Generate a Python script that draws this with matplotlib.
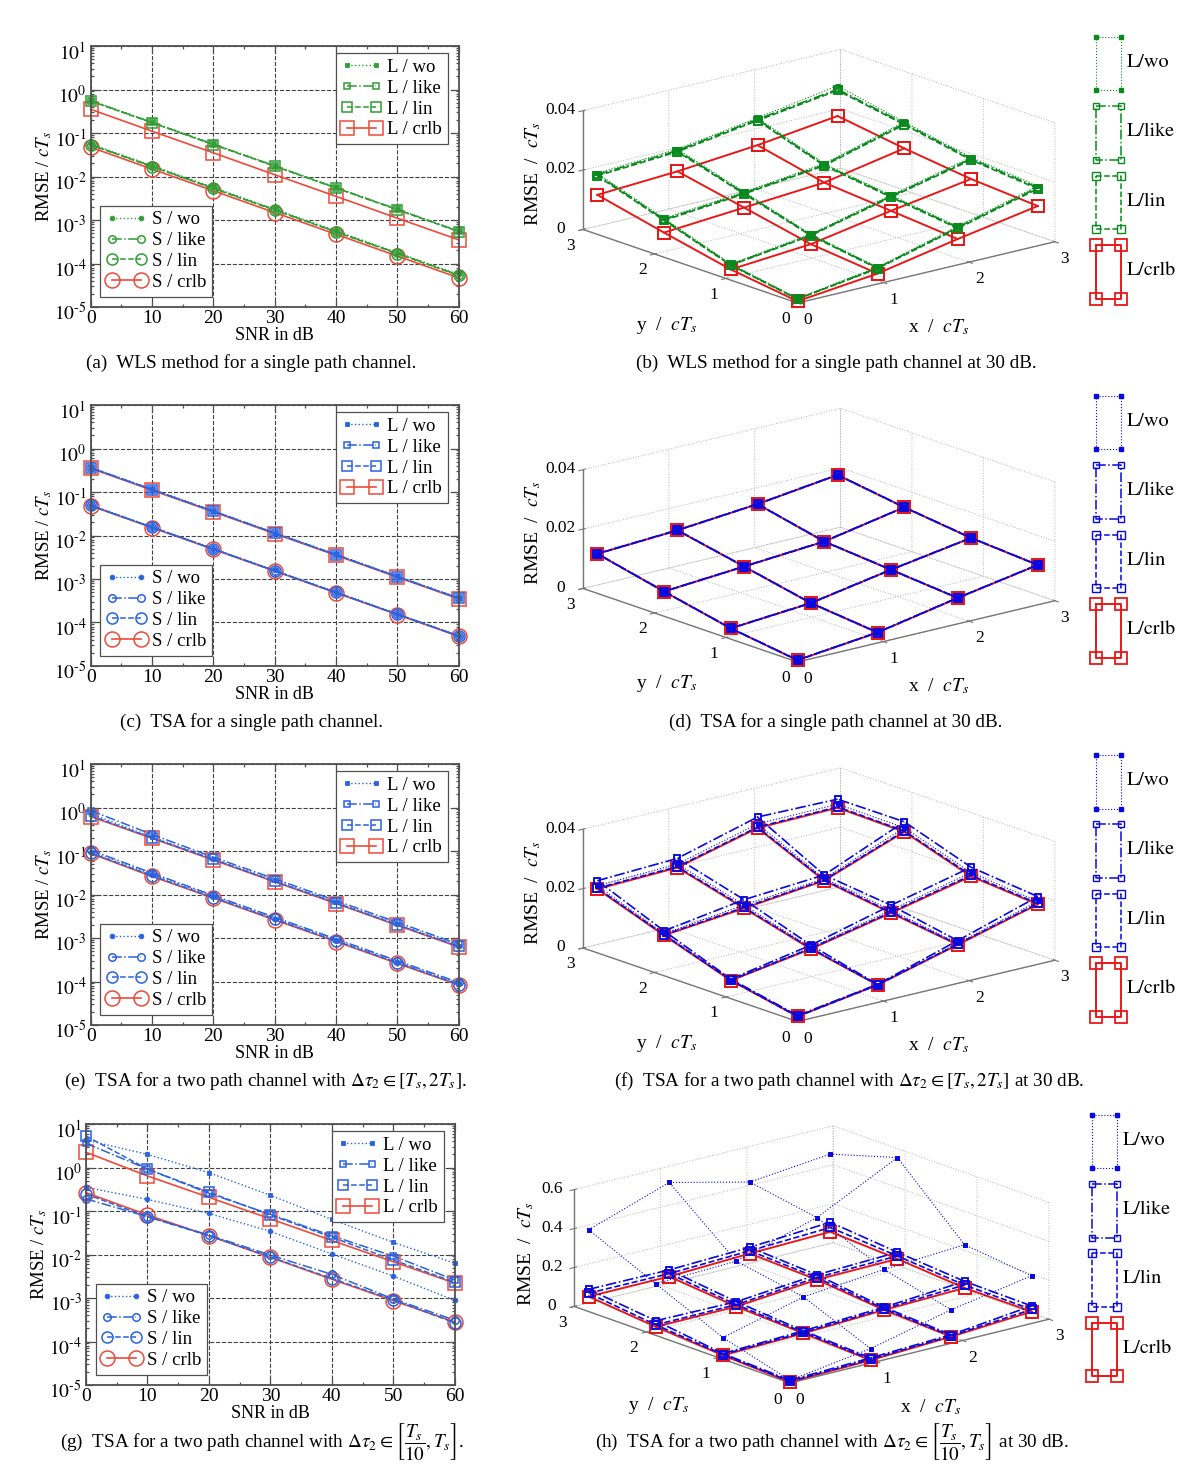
import matplotlib
matplotlib.use("Agg")
import matplotlib.pyplot as plt
from matplotlib.ticker import LogLocator, NullFormatter
from matplotlib.transforms import ScaledTranslation
from mpl_toolkits.mplot3d import proj3d

W, H = 1200, 1476
plt.rcParams.update({
    "font.family": ["Liberation Serif", "DejaVu Serif"],
    "mathtext.fontset": "stix",
    "grid.color": "#b8b8b8",
    "grid.linestyle": ":",
    "grid.linewidth": 0.7,
})

GREEN_L, BLUE_L, RED_L = "#2f9e35", "#2a62e0", "#ee4a3a"
GREEN_R, BLUE_R, RED_R = "#0a8a1e", "#0808e0", "#e81818"
DARK = "#505050"

snr = [0, 10, 20, 30, 40, 50, 60]

# panel a
a_l_wo = [.56, .178, .056, .0178, .0056, .00178, .00056]
a_l_like = [.55, .175, .055, .0175, .0055, .00175, .00055]
a_l_lin = [.54, .172, .054, .0172, .0054, .00172, .00054]
a_l_crlb = [.35, .11, .035, .011, .0035, .0011, .00035]
a_s_wo = [.056, .0178, .0056, .00178, .00056, .000178, .000056]
a_s_like = [.054, .0172, .0054, .00172, .00054, .000172, .000054]
a_s_lin = [.053, .0168, .0053, .00168, .00053, .000168, .000053]
a_s_crlb = [.047, .0148, .0047, .00148, .00047, .000148, .000047]
# panel c
c_l_wo = [.37, .116, .037, .0116, .0037, .00116, .00037]
c_l_like = [.36, .114, .036, .0114, .0036, .00114, .00036]
c_l_lin = [.36, .113, .036, .0113, .0036, .00113, .00036]
c_l_crlb = [.35, .11, .035, .011, .0035, .0011, .00035]
c_s_wo = [.05, .0158, .005, .00158, .0005, .000158, .00005]
c_s_like = [.049, .0155, .0049, .00155, .00049, .000155, .000049]
c_s_lin = [.049, .0154, .0049, .00154, .00049, .000154, .000049]
c_s_crlb = [.048, .0152, .0048, .00152, .00048, .000152, .000048]
# panel e
e_l_wo = [.72, .21, .066, .021, .0066, .0021, .00066]
e_l_like = [.85, .24, .072, .023, .0072, .0023, .00072]
e_l_lin = [.65, .2, .064, .02, .0064, .002, .00064]
e_l_crlb = [.62, .196, .062, .0196, .0062, .00196, .00062]
e_s_wo = [.095, .029, .009, .0028, .0009, .00028, .00009]
e_s_like = [.105, .031, .0095, .003, .00095, .0003, .000095]
e_s_lin = [.09, .027, .0085, .0027, .00085, .00027, .000085]
e_s_crlb = [.088, .026, .0083, .0026, .00083, .00026, .000083]
# panel g
g_l_wo = [4.3, 2.0, .76, .23, .064, .019, .0063]
g_l_like = [3.6, .92, .255, .084, .027, .0092, .0026]
g_l_lin = [5.3, .92, .27, .081, .025, .0075, .0023]
g_l_crlb = [2.24, .64, .206, .066, .021, .0068, .0022]
g_s_wo = [.35, .185, .088, .034, .0103, .0032, .00088]
g_s_like = [.19, .074, .028, .0097, .0035, .00095, .00031]
g_s_lin = [.245, .074, .027, .0088, .0028, .00091, .00027]
g_s_crlb = [.265, .081, .027, .0086, .0027, .00087, .00028]

# 3d panels, rows are y positions and columns x positions
grid_pos = [0, 0.933, 1.867, 2.8]

b_wo = [[.0016, .0057, .0130, .0202], [.0055, .0091, .0158, .0221],
        [.0131, .0156, .0187, .0263], [.0206, .0223, .0264, .0308]]
b_like = [[.0014, .0054, .0126, .0196], [.0052, .0088, .0154, .0216],
          [.0127, .0152, .0183, .0258], [.0201, .0218, .0259, .0296]]
b_lin = [[.0013, .0052, .0123, .0192], [.0050, .0086, .0151, .0212],
         [.0124, .0149, .0180, .0254], [.0197, .0214, .0255, .0292]]
b_crlb = [[.0006, .0035, .0087, .0134], [.0036, .0057, .0105, .0148],
          [.0083, .0103, .0123, .0174], [.0133, .0148, .0172, .0206]]

d_wo = [[.0007, .0036, .0088, .0135], [.0037, .0058, .0106, .0149],
        [.0084, .0104, .0124, .0175], [.0134, .0149, .0173, .0207]]
d_like = [[.0007, .0036, .0088, .0135], [.0037, .0058, .0106, .0149],
          [.0084, .0104, .0124, .0175], [.0134, .0149, .0173, .0207]]
d_lin = [[.0006, .0035, .0087, .0134], [.0036, .0057, .0105, .0148],
         [.0083, .0103, .0123, .0174], [.0133, .0148, .0172, .0206]]
d_crlb = [[.0006, .0035, .0087, .0134], [.0036, .0057, .0105, .0148],
          [.0083, .0103, .0123, .0174], [.0133, .0148, .0172, .0206]]

f_wo = [[.0018, .0060, .0135, .0212], [.0063, .0108, .0170, .0232],
        [.0142, .0174, .0199, .0306], [.0226, .0235, .0306, .0308]]
f_like = [[.0020, .0061, .0144, .0228], [.0066, .0116, .0186, .0250],
          [.0151, .0192, .0211, .0326], [.0243, .0254, .0329, .0325]]
f_lin = [[.0017, .0059, .0132, .0205], [.0062, .0105, .0163, .0223],
         [.0138, .0166, .0194, .0295], [.0218, .0226, .0295, .0299]]
f_crlb = [[.0017, .0059, .0130, .0202], [.0061, .0103, .0160, .0219],
          [.0136, .0163, .0192, .0292], [.0215, .0223, .0292, .0296]]

h_wo = [[.014, .075, .172, .245], [.111, .218, .257, .282],
        [.265, .279, .401, .607], [.420, .561, .461, .503]]
h_like = [[.014, .027, .044, .090], [.029, .044, .063, .094],
          [.075, .071, .107, .121], [.114, .112, .126, .153]]
h_lin = [[.008, .020, .038, .072], [.024, .036, .055, .075],
         [.054, .056, .093, .102], [.094, .093, .108, .126]]
h_crlb = [[.005, .015, .034, .061], [.020, .031, .049, .060],
          [.044, .046, .082, .087], [.077, .078, .094, .104]]

decades = [1e-5, 1e-4, 1e-3, 1e-2, 1e-1, 1e0, 1e1]
decade_labels = [r"$10^{\text{-}5}$", r"$10^{\text{-}4}$", r"$10^{\text{-}3}$", r"$10^{\text{-}2}$",
                 r"$10^{\text{-}1}$", r"$10^{0}$", r"$10^{1}$"]
xy_ticks = [0, 1, 2, 3]


def snr_panel(fig, box, colour, l_series, s_series):
    left, top, right, bottom = box
    ax = fig.add_axes([left / W, 1 - bottom / H, (right - left) / W, (bottom - top) / H])
    wo, like, lin, crlb = l_series
    s_wo, s_like, s_lin, s_crlb = s_series
    kw = dict(mfc="none", clip_on=False)
    l_lines = [
        ax.plot(snr, crlb, "-", color=RED_L, lw=1.2, marker="s", ms=9.6, mew=1.1, label="L / crlb", **kw)[0],
        ax.plot(snr, lin, "--", color=colour, lw=1.1, marker="s", ms=7.2, mew=1.1, label="L / lin", **kw)[0],
        ax.plot(snr, like, "-.", color=colour, lw=1.1, marker="s", ms=5, mew=1.1, label="L / like", **kw)[0],
        ax.plot(snr, wo, ":", color=colour, lw=1, marker="s", ms=3.4, mfc=colour, mew=0.6, clip_on=False, label="L / wo")[0],
    ]
    s_lines = [
        ax.plot(snr, s_crlb, "-", color=RED_L, lw=1.2, marker="o", ms=10.8, mew=1.1, label="S / crlb", **kw)[0],
        ax.plot(snr, s_lin, "--", color=colour, lw=1.1, marker="o", ms=8, mew=1.1, label="S / lin", **kw)[0],
        ax.plot(snr, s_like, "-.", color=colour, lw=1.1, marker="o", ms=5.4, mew=1.1, label="S / like", **kw)[0],
        ax.plot(snr, s_wo, ":", color=colour, lw=1, marker="o", ms=3.4, mfc=colour, mew=0.6, clip_on=False, label="S / wo")[0],
    ]
    ax.set_yscale("log")
    ax.set_xlim(0, 60)
    ax.set_ylim(1e-5, 1e1)
    ax.set_xticks(snr)
    ax.set_xticks(range(5, 60, 10), minor=True)
    ax.set_yticks(decades)
    ax.set_yticklabels(decade_labels)
    ax.yaxis.set_minor_locator(LogLocator(base=10, subs=range(2, 10), numticks=20))
    ax.yaxis.set_minor_formatter(NullFormatter())
    ax.tick_params(which="both", direction="in", top=True, right=True, color=DARK, labelsize=14, width=0.9)
    ax.tick_params(which="major", length=5, pad=3)
    ax.tick_params(which="minor", length=2.5)
    ax.tick_params(axis="x", which="major", pad=2)
    ax.grid(True, which="major", color="#404040", ls="--", lw=0.8)
    ax.set_axisbelow(True)
    for spine in ax.spines.values():
        spine.set_color(DARK)
        spine.set_linewidth(1.3)
    # gnuplot puts the exponent labels a bit below the tick
    shift = ScaledTranslation(0, -3 / 72, fig.dpi_scale_trans)
    for lab in ax.get_yticklabels():
        lab.set_transform(lab.get_transform() + shift)
    ax.set_xlabel("SNR in dB", fontsize=13, labelpad=0)
    ax.set_ylabel("RMSE / $cT_s$", fontsize=13.5, labelpad=0)

    leg_kw = dict(fontsize=13.5, numpoints=2, handlelength=2.15, handletextpad=0.3, labelspacing=0.2,
                  borderpad=0.3, borderaxespad=0, fancybox=False, framealpha=1, edgecolor=DARK)
    leg = ax.legend(handles=l_lines[::-1], loc="upper right", bbox_to_anchor=(0.97, 0.973), **leg_kw)
    leg.get_frame().set_linewidth(0.9)
    ax.add_artist(leg)
    leg2 = ax.legend(handles=s_lines[::-1], loc="lower left", bbox_to_anchor=(0.026, 0.04), **leg_kw)
    leg2.get_frame().set_linewidth(0.9)
    return ax


def mesh(ax, z, style, colour, lw, ms, filled=False, mew=1.0):
    mfc = colour if filled else "none"
    for j, row in enumerate(z):
        ax.plot(grid_pos, [grid_pos[j]] * 4, row, style, color=colour, lw=lw, marker="s", ms=ms,
                mfc=mfc, mec=colour, mew=mew, clip_on=False)
    for i in range(4):
        col = [row[i] for row in z]
        ax.plot([grid_pos[i]] * 4, grid_pos, col, style, color=colour, lw=lw, marker="s", ms=ms,
                mfc=mfc, mec=colour, mew=mew, clip_on=False)


def surface_panel(fig, corner, colour, series, z_ticks, z_labels, ratio=0.37, elev=16.6, x_px=85.8):
    size = 340
    ax = fig.add_axes([0.5, 0.5, size / W, size / H], projection="3d", proj_type="ortho", computed_zorder=False)
    ax.patch.set_alpha(0)
    ax.view_init(elev=elev, azim=-129.8)
    ax.set_xlim(0, 3, view_margin=0)
    ax.set_ylim(0, 3, view_margin=0)
    ax.set_zlim(0, z_ticks[-1], view_margin=0)
    ax.set_xticks(xy_ticks)
    ax.set_yticks(xy_ticks)
    ax.set_zticks(z_ticks)
    ax.set_zticklabels(z_labels)
    for axis in (ax.xaxis, ax.yaxis, ax.zaxis):
        axis.set_pane_color((1, 1, 1, 0))
        axis.pane.set_edgecolor("none")
        axis.line.set_color("#777777")
        axis.line.set_linewidth(1.0)
    ax.tick_params(axis="both", labelsize=12.5, color="#777777", pad=-2)
    ax.tick_params(axis="z", labelsize=12.5, color="#777777", pad=-2)
    for tick in ax.zaxis.get_major_ticks():
        tick.label1.set_va("center")

    wo, like, lin, crlb = series
    mesh(ax, crlb, "-", RED_R, 1.4, 8.4, mew=1.4)
    mesh(ax, lin, "--", colour, 1.2, 5.8, mew=1.2)
    mesh(ax, like, "-.", colour, 1.2, 4.2, mew=1.1)
    mesh(ax, wo, ":", colour, 0.8, 3.4, filled=True, mew=0.5)

    # scale and shift so the floor corner lands where it should
    zoom = 1.0
    for _ in range(2):
        ax.set_box_aspect((1, 1, ratio), zoom=zoom)
        ax.apply_aspect()
        M = ax.get_proj()
        x0, y0, _z = proj3d.proj_transform(0, 0, 0, M)
        x1, y1, _z = proj3d.proj_transform(3, 0, 0, M)
        p0 = ax.transData.transform((x0, y0))
        p1 = ax.transData.transform((x1, y1))
        zoom *= (3 * x_px) / (p1[0] - p0[0])
    ax.set_box_aspect((1, 1, ratio), zoom=zoom)
    M = ax.get_proj()
    x0, y0, _z = proj3d.proj_transform(0, 0, 0, M)
    p0 = ax.transData.transform((x0, y0))
    pos = ax.get_position()
    ax.set_position([pos.x0 + (corner[0] - p0[0]) / W, pos.y0 + ((H - corner[1]) - p0[1]) / H, pos.width, pos.height])
    return ax


def surface_labels(ov, corner):
    cx, cy = corner
    ov.text(cx + 141, cy + 24, r"x  /  $cT_s$", fontsize=14, ha="center", va="center")
    ov.text(cx - 131, cy + 22, r"y  /  $cT_s$", fontsize=14, ha="center", va="center")
    ov.text(cx - 264, cy - 129, r"RMSE  /  $cT_s$", fontsize=14, rotation=90, ha="center", va="center")


def side_key(ov, xs, tops, text_x, colour):
    names = ["L/wo", "L/like", "L/lin", "L/crlb"]
    styles = [(":", 0.8, 3.2, True), ("-.", 1.1, 4.2, False), ("--", 1.1, 5.8, False), ("-", 1.4, 8, False)]
    height = 53.5
    for k, (name, st, top) in enumerate(zip(names, styles, tops)):
        c = RED_R if k == 3 else colour
        ls, lw, ms, filled = st
        bottom = top + height
        ov.plot([xs[0], xs[1], xs[1], xs[0], xs[0]], [top, top, bottom, bottom, top], ls, color=c, lw=lw)
        ov.plot([xs[0], xs[1], xs[0], xs[1]], [top, top, bottom, bottom], "none", marker="s", ms=ms,
                mfc=c if filled else "none", mec=c, mew=1.3 if k == 3 else 1.0)
        ov.text(text_x, (top + bottom) / 2 - 1, name, fontsize=14.5, va="center", ha="left", family="STIXGeneral")


fig = plt.figure(figsize=(W / 100, H / 100), dpi=100)

snr_panel(fig, (90.7, 46, 458.7, 307), GREEN_L,
          (a_l_wo, a_l_like, a_l_lin, a_l_crlb), (a_s_wo, a_s_like, a_s_lin, a_s_crlb))
snr_panel(fig, (90.7, 405, 458.7, 666), BLUE_L,
          (c_l_wo, c_l_like, c_l_lin, c_l_crlb), (c_s_wo, c_s_like, c_s_lin, c_s_crlb))
snr_panel(fig, (90.7, 764, 458.7, 1025), BLUE_L,
          (e_l_wo, e_l_like, e_l_lin, e_l_crlb), (e_s_wo, e_s_like, e_s_lin, e_s_crlb))
snr_panel(fig, (86, 1124, 454.7, 1385), BLUE_L,
          (g_l_wo, g_l_like, g_l_lin, g_l_crlb), (g_s_wo, g_s_like, g_s_lin, g_s_crlb))

t_small = [0, 0.02, 0.04]
l_small = ["0", "0.02", "0.04"]
corners = [(797.5, 303), (797.5, 662), (797.5, 1021.5), (790, 1383)]
surface_panel(fig, corners[0], GREEN_R, (b_wo, b_like, b_lin, b_crlb), t_small, l_small)
surface_panel(fig, corners[1], BLUE_R, (d_wo, d_like, d_lin, d_crlb), t_small, l_small)
surface_panel(fig, corners[2], BLUE_R, (f_wo, f_like, f_lin, f_crlb), t_small, l_small)
surface_panel(fig, corners[3], BLUE_R, (h_wo, h_like, h_lin, h_crlb), [0, 0.2, 0.4, 0.6], ["0", "0.2", "0.4", "0.6"],
              ratio=0.363, elev=17.2, x_px=86.3)

# overlay in pixel units for the keys and the captions
ov = fig.add_axes([0, 0, 1, 1])
ov.set_xlim(0, W)
ov.set_ylim(H, 0)
ov.set_axis_off()
ov.patch.set_alpha(0)

for c in corners:
    surface_labels(ov, c)

side_key(ov, (1096, 1121), (36.7, 106, 175.7, 245), 1127, GREEN_R)
side_key(ov, (1096, 1121), (395.7, 465, 534.7, 604), 1127, BLUE_R)
side_key(ov, (1096, 1121), (755, 824, 893.5, 963), 1127, BLUE_R)
side_key(ov, (1091.6, 1117), (1114.7, 1184, 1253, 1322.7), 1123, BLUE_R)

captions = [
    (251, 363.5, "(a)  WLS method for a single path channel."),
    (836, 363.5, "(b)  WLS method for a single path channel at 30 dB."),
    (251, 722.5, "(c)  TSA for a single path channel."),
    (836, 722.5, "(d)  TSA for a single path channel at 30 dB."),
    (265, 1081.5, r"(e)  TSA for a two path channel with $\Delta\tau_2\in[T_s,2T_s]$."),
    (849, 1081.5, r"(f)  TSA for a two path channel with $\Delta\tau_2\in[T_s,2T_s]$ at 30 dB."),
    (262, 1441, r"(g)  TSA for a two path channel with $\Delta\tau_2\in\left[\dfrac{T_s}{10},T_s\right]$."),
    (832, 1441, r"(h)  TSA for a two path channel with $\Delta\tau_2\in\left[\dfrac{T_s}{10},T_s\right]$ at 30 dB."),
]
for cx, cy, txt in captions:
    ov.text(cx, cy, txt, fontsize=13.8, ha="center", va="center")

fig.savefig("out.png", dpi=100)
